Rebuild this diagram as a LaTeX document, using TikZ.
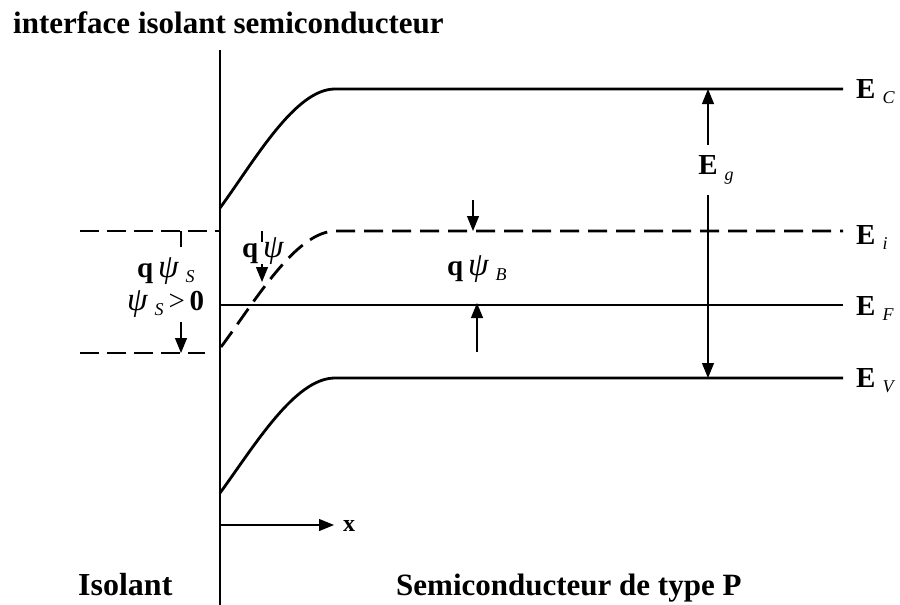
\documentclass[tikz,border=0pt]{standalone}
\usepackage{fontspec}
\setmainfont{Liberation Serif}
\usepackage{tikz}
\usetikzlibrary{arrows.meta,positioning}
\newcommand{\lsub}[1]{\hspace{7pt}\raisebox{-0.4ex}{\fontsize{18}{18}\selectfont\mdseries\itshape #1}}
\newcommand{\psii}{{\fontsize{33}{33}\selectfont\mdseries\itshape ψ}}

\begin{document}
\begin{tikzpicture}[x=1pt,y=-1pt,
band/.style={line width=2.8pt},
midgap/.style={line width=2.8pt, dash pattern=on 19pt off 9pt},
guide/.style={line width=1.2pt, dash pattern=on 19pt off 8pt},
fermi/.style={line width=1.4pt},
arrow/.style={-{Triangle[length=15pt,width=12pt]}, line width=1.2pt},
tick/.style={line width=1.2pt},
lbl/.style={font=\bfseries\fontsize{29}{29}\selectfont, inner sep=0pt, anchor=base west},
big/.style={font=\bfseries\fontsize{31}{31}\selectfont, inner sep=0pt, anchor=base west}
]
\useasboundingbox (0,0) rectangle (900,605);

\coordinate (itop) at (220,50);
\coordinate (ibot) at (220,605);
\coordinate (bc0) at (220,208);
\coordinate (bi0) at (221,347);
\coordinate (bv0) at (220,493);
\coordinate (ef0) at (220,305);
\coordinate (ecr) at (843,89);
\coordinate (eir) at (843,231);
\coordinate (efr) at (843,305);
\coordinate (evr) at (843,378);
\coordinate (gl) at (80,231);
\coordinate (gi) at (220,231);
\coordinate (sl) at (80,353);
\coordinate (si) at (205,353);

\node[big] (title) at (13,33) {interface isolant semiconducteur};
\node[big, font=\bfseries\fontsize{32}{32}\selectfont] (iso) at (78,595) {Isolant};
\node[big] (semi) at (396,595) {Semiconducteur de type P};

\draw[line width=1.8pt] (itop) -- (ibot);
\draw[band] (bc0) .. controls (255,160) and (295,89) .. (335,89) -- (ecr);
\draw[midgap] (bi0) .. controls (256,300) and (296,231) .. (336,231) -- (eir);
\draw[fermi] (ef0) -- (efr);
\draw[band] (bv0) .. controls (255,445) and (295,378) .. (335,378) -- (evr);
\draw[guide] (gl) -- (gi);
\draw[guide] (sl) -- (si);

\node[lbl] (lc) at (856,98) {E\lsub{C}};
\node[lbl] (li) at (856,244) {E\lsub{i}};
\node[lbl] (lf) at (856,315) {E\lsub{F}};
\node[lbl] (lv) at (856,387) {E\lsub{V}};

\node[lbl, anchor=center, minimum height=50pt] (eg) at (708,170) {E\rlap{\lsub{g}}};
\draw[arrow] (eg.north) -- (eg.north |- ecr);
\draw[arrow] (eg.south) -- (eg.south |- evr);

\node[lbl] (qb) at (447,275) {q\,\psii\lsub{B}};
\coordinate (bt) at (473,200);
\coordinate (bb) at (477,352);
\draw[arrow] (bt) -- (bt |- eir);
\draw[arrow] (bb) -- ([yshift=2pt]bb |- efr);

\node[lbl] (qs) at (137,277) {q\,\psii\lsub{S}};
\node[lbl] (ps) at (127,310) {\psii\lsub{S}\,{\mdseries >}\,0};
\coordinate (st) at (181,247);
\coordinate (sa) at (181,322);
\draw[tick] (st |- gl) -- (st);
\draw[arrow] (sa) -- (sa |- sl);

\node[lbl] (qp) at (242,257) {q\,\psii};
\coordinate (pt) at (262,242);
\coordinate (pa) at (262,264);
\coordinate (ph) at (262,282);
\draw[tick] (pt |- gl) -- (pt);
\draw[arrow] (pa) -- (ph);

\coordinate (xo) at (220,525);
\coordinate (xe) at (334,525);
\draw[arrow] (xo) -- (xe);
\node[lbl, font=\bfseries\fontsize{24}{24}\selectfont] (xl) at (343,531) {x};
\end{tikzpicture}
\end{document}
